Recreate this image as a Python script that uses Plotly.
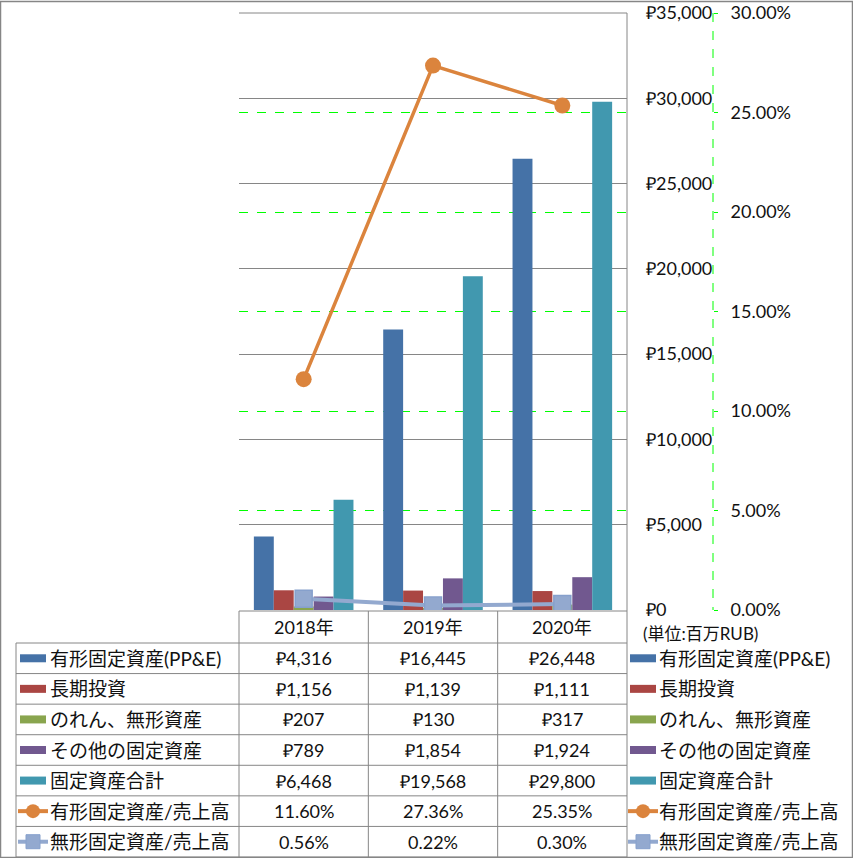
import plotly.graph_objects as go

W, H = 853, 858

# data
categories = ["2018年", "2019年", "2020年"]
ppe = [4316, 16445, 26448]
lt_invest = [1156, 1139, 1111]
goodwill = [207, 130, 317]
other_fixed = [789, 1854, 1924]
total_fixed = [6468, 19568, 29800]
ppe_ratio = [0.1160, 0.2736, 0.2535]
intang_ratio = [0.0056, 0.0022, 0.0030]
rub_ticks = [0, 5000, 10000, 15000, 20000, 25000, 30000, 35000]
pct_ticks = [0, 0.05, 0.10, 0.15, 0.20, 0.25, 0.30]

bar_names = ["有形固定資産(PP&E)", "長期投資", "のれん、無形資産", "その他の固定資産", "固定資産合計"]
bar_colors = ["#4572A7", "#AA4643", "#89A54E", "#71588F", "#4198AF"]
line_names = ["有形固定資産/売上高", "無形固定資産/売上高"]
line_colors = ["#DB843D", "#93A9CF"]

FONT = "Lato, 'Noto Sans CJK JP', sans-serif"
GRAY = "#868686"
GREEN = "#00FF00"

# layout in pixels
PL, PR, PT, PB = 239, 627, 13, 610
TL = 16
HEAD_B = 643
ROW_H = (857 - HEAD_B) / 7
AX2_X = 713


def px(x):
    return x / W


def py(y):
    return 1 - y / H


fig = go.Figure()

bar_values = [ppe, lt_invest, goodwill, other_fixed, total_fixed]
for name, vals, col in zip(bar_names, bar_values, bar_colors):
    fig.add_trace(go.Bar(x=categories, y=vals, name=name, marker_color=col,
                         marker_line_width=0, showlegend=False))

fig.add_trace(go.Scatter(x=categories, y=ppe_ratio, name=line_names[0], yaxis="y2",
                         mode="lines+markers", line=dict(color=line_colors[0], width=3.5),
                         marker=dict(symbol="circle", size=16, color=line_colors[0]),
                         showlegend=False))
fig.add_trace(go.Scatter(x=categories, y=intang_ratio, name=line_names[1], yaxis="y2",
                         mode="lines+markers", line=dict(color=line_colors[1], width=4),
                         marker=dict(symbol="square", size=17, color=line_colors[1],
                                     line=dict(color="#86A0CC", width=1.5)),
                         showlegend=False))

shapes = []
def hline(y, x0, x1, color=GRAY, width=1, dash=None):
    shapes.append(dict(type="line", xref="paper", yref="paper", x0=px(x0), x1=px(x1),
                       y0=py(y), y1=py(y), line=dict(color=color, width=width, dash=dash)))

def vline(x, y0, y1, color=GRAY, width=1, dash=None):
    shapes.append(dict(type="line", xref="paper", yref="paper", x0=px(x), x1=px(x),
                       y0=py(y0), y1=py(y1), line=dict(color=color, width=width, dash=dash)))

# outer border
shapes.append(dict(type="rect", xref="paper", yref="paper", x0=px(0.5), x1=px(852.5),
                   y0=py(857.5), y1=py(1.5), line=dict(color=GRAY, width=1.5)))
# plot top edge and right edge continuing into the table
hline(PT, PL, PR)
vline(PR, PT, 857)
# secondary axis line (dashed green)
vline(AX2_X, PT, PB, color=GREEN, dash="dash")

# table grid
ncat = len(categories)
colw = (PR - PL) / ncat
hline(PB + 1, PL, PR)
for i in range(8):
    hline(HEAD_B + i * ROW_H, TL, PR)
vline(TL, HEAD_B, 857)
for i in range(ncat):
    vline(PL + i * colw, PB + 1, 857)

annotations = []
txt = dict(family=FONT, size=18, color="#111111")
for c in categories:
    annotations.append(dict(x=c, xref="x", y=py((PB + HEAD_B) / 2), yref="paper",
                            text=c, showarrow=False, font=txt, yanchor="middle"))

rows = [[f"₽{v:,}" for v in vals] for vals in bar_values]
rows += [[f"{v:.2%}" for v in ppe_ratio], [f"{v:.2%}" for v in intang_ratio]]
names = bar_names + line_names
for r, (name, vals) in enumerate(zip(names, rows)):
    yc = HEAD_B + (r + 0.5) * ROW_H
    for c, v in zip(categories, vals):
        annotations.append(dict(x=c, xref="x", y=py(yc), yref="paper", text=v,
                                showarrow=False, font=txt, yanchor="middle"))
    for kx, lx in ((20, 48), (630, 657)):
        if r < 5:
            shapes.append(dict(type="rect", xref="paper", yref="paper", x0=px(kx), x1=px(kx + 26),
                               y0=py(yc + 4), y1=py(yc - 4), line_width=0,
                               fillcolor=bar_colors[r]))
        else:
            col = line_colors[r - 5]
            hline(yc, kx - 2, kx + 28, color=col, width=4)
            if r == 5:
                shapes.append(dict(type="circle", xref="paper", yref="paper",
                                   x0=px(kx + 6), x1=px(kx + 20), y0=py(yc + 7), y1=py(yc - 7),
                                   fillcolor=col, line_width=0))
            else:
                shapes.append(dict(type="rect", xref="paper", yref="paper",
                                   x0=px(kx + 6), x1=px(kx + 20), y0=py(yc + 7), y1=py(yc - 7),
                                   fillcolor=col, line=dict(color="#86A0CC", width=1)))
        annotations.append(dict(x=px(lx), xref="paper", y=py(yc), yref="paper", text=name,
                                xanchor="left", yanchor="middle", showarrow=False,
                                font=dict(family=FONT, size=19, color="#111111")))

annotations.append(dict(x=px(641), xref="paper", y=py(633), yref="paper", text="(単位:百万RUB)",
                        xanchor="left", yanchor="middle", showarrow=False,
                        font=dict(family=FONT, size=17, color="#111111")))

fig.update_layout(
    width=W, height=H,
    margin=dict(l=0, r=0, t=0, b=0, pad=0),
    paper_bgcolor="white", plot_bgcolor="white",
    font=dict(family=FONT, size=17, color="#111111"),
    barmode="group", bargap=0.23, bargroupgap=0,
    showlegend=False,
    xaxis=dict(domain=[px(PL), px(PR)], showticklabels=False, ticks="", showgrid=False,
               showline=False, zeroline=False, automargin=False),
    yaxis=dict(domain=[py(PB), py(PT)], range=[0, 35000], side="right",
               tickvals=rub_ticks, ticktext=[f"₽{v:,}" for v in rub_ticks],
               showgrid=True, gridcolor=GRAY, gridwidth=1, zeroline=False, showline=False,
               ticks="", ticklabelstandoff=18, automargin=False,
               tickfont=dict(family=FONT, size=18)),
    yaxis2=dict(overlaying="y", anchor="free", position=px(AX2_X), side="right",
                range=[0, 0.30], tickvals=pct_ticks,
                tickformat=".2%", showgrid=True, gridcolor=GREEN, griddash="dash", gridwidth=1,
                zeroline=False, showline=False, ticks="outside", ticklen=4, tickcolor=GREEN,
                ticklabelstandoff=9, automargin=False, tickfont=dict(family=FONT, size=18)),
    shapes=shapes,
    annotations=annotations,
)

fig.write_html("out.html", config={"displayModeBar": False},
               post_script="document.body.style.margin='0';")
